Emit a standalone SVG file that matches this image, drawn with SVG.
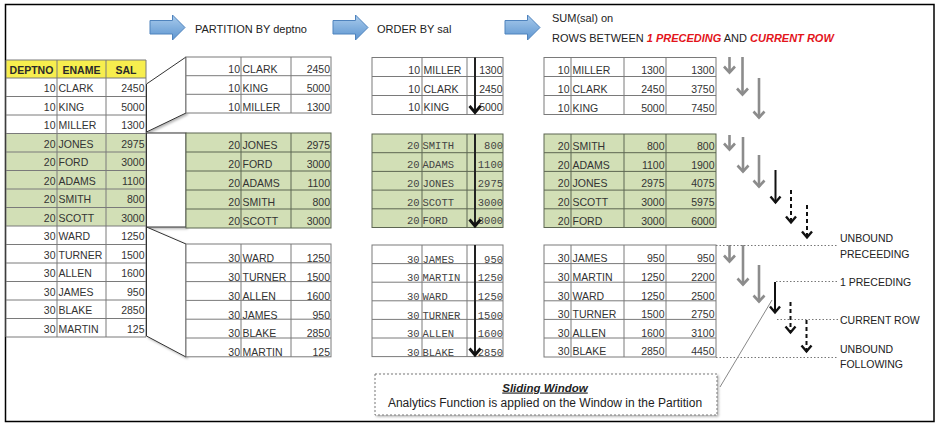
<svg xmlns="http://www.w3.org/2000/svg" width="939" height="427" viewBox="0 0 939 427">
  <style>
    .t { font-family: "Liberation Sans", Arial, sans-serif; font-size: 10.5px; fill: #333; }
    .r { text-anchor: end; }
    .m { font-family: "Liberation Mono", "DejaVu Sans Mono", monospace; font-size: 10.5px; fill: #444; }
    .hd { font-family: "Liberation Sans", Arial, sans-serif; font-size: 10.5px; font-weight: bold; fill: #2a2a2a; text-anchor: middle; }
    .cap { font-family: "Liberation Sans", Arial, sans-serif; font-size: 11px; fill: #222; }
    .red { fill: #e3141b; font-weight: bold; font-style: italic; }
    .lbl { font-family: "Liberation Sans", Arial, sans-serif; font-size: 10.5px; fill: #222; }
    .gw { fill: #fff; stroke: #7a7a7a; stroke-width: 1; }
    .gg { fill: #d2dfb6; stroke: #5d6652; stroke-width: 1; }
    .ln { fill: none; stroke: #7a7a7a; stroke-width: 1; }
    .lng { fill: none; stroke: #5d6652; stroke-width: 1; }
    .brk { fill: #fff; stroke: #333; stroke-width: 1; filter: url(#sh); }
    .blue { fill: url(#bg); stroke: #4f83bd; stroke-width: 1; }
    .ag { stroke: #8c8c8c; stroke-width: 2.6; fill: none; marker-end: url(#hg); }
    .ab { stroke: #111; stroke-width: 2; fill: none; marker-end: url(#hb); }
    .ad { stroke: #111; stroke-width: 2; fill: none; stroke-dasharray: 4 3; marker-end: url(#hb); }
    .sort { stroke: #222; stroke-width: 2; fill: none; marker-end: url(#hs); }
    .dot { stroke: #777; stroke-width: 1; fill: none; stroke-dasharray: 1.5 2; }
  </style>
  <defs>
    <linearGradient id="bg" x1="0" y1="0" x2="0" y2="1">
      <stop offset="0" stop-color="#a9cbec"/>
      <stop offset="1" stop-color="#5d95d0"/>
    </linearGradient>
    <filter id="sh" x="-20%" y="-20%" width="140%" height="140%">
      <feDropShadow dx="1.5" dy="1.5" stdDeviation="1" flood-color="#000" flood-opacity="0.3"/>
    </filter>
    <marker id="hg" markerUnits="userSpaceOnUse" viewBox="-10 -8 14 16" markerWidth="14" markerHeight="16" refX="0" refY="0" orient="auto">
      <path d="M-6.5,-5.5 L-0.5,0 L-6.5,5.5" fill="none" stroke="#8c8c8c" stroke-width="2.6"/>
    </marker>
    <marker id="hb" markerUnits="userSpaceOnUse" viewBox="-10 -8 14 16" markerWidth="14" markerHeight="16" refX="0" refY="0" orient="auto">
      <path d="M-6.5,-5 L-0.5,0 L-6.5,5" fill="none" stroke="#111" stroke-width="2.4"/>
    </marker>
    <marker id="hs" markerUnits="userSpaceOnUse" viewBox="-10 -8 14 16" markerWidth="14" markerHeight="16" refX="0" refY="0" orient="auto">
      <path d="M-7,-5.5 L-0.5,0 L-7,5.5" fill="none" stroke="#111" stroke-width="2.8"/>
    </marker>
  </defs>

  <rect width="939" height="427" fill="#fff"/>
  <!-- frame -->
  <rect x="5.5" y="4.5" width="928.5" height="417" fill="none" stroke="#000" stroke-width="1.5"/>

  <!-- step arrows and captions -->
  <g id="step-partition">
    <path class="blue" d="M150,20.5 H172.5 V15 L185,27.5 L172.5,40 V34 H150 Z"/>
    <text class="cap" x="195" y="33">PARTITION BY deptno</text>
  </g>
  <g id="step-order">
    <path class="blue" d="M333,20.5 H355.5 V15 L368,27.5 L355.5,40 V34 H333 Z"/>
    <text class="cap" x="377" y="33">ORDER BY sal</text>
  </g>
  <g id="step-sum">
    <path class="blue" d="M505,20.5 H527.5 V15 L540,27.5 L527.5,40 V34 H505 Z"/>
    <text class="cap" x="552" y="22">SUM(sal) on</text>
    <text class="cap" x="552" y="42" font-size="10.5">ROWS BETWEEN <tspan class="red">1 PRECEDING</tspan> AND <tspan class="red">CURRENT ROW</tspan></text>
  </g>

  <!-- source table -->
  <g id="emp-table">
    <rect x="6" y="60" width="140" height="18" fill="#f7ee4e"/>
    <rect x="6" y="78" width="140" height="259" fill="#fff"/>
    <rect x="6" y="133.5" width="140" height="92.5" fill="#d2dfb6"/>
    <path class="ln" d="M6,60 H146 M6,78 H146 M6,96.5 H146 M6,115 H146 M6,133.5 H146 M6,152 H146 M6,170.5 H146 M6,189 H146 M6,207.5 H146 M6,226 H146 M6,244.5 H146 M6,263 H146 M6,281.5 H146 M6,300 H146 M6,318.5 H146 M6,337 H146 M6,60 V337 M57,60 V337 M106,60 V337 M146,60 V337"/>
    <text class="hd" x="31.5" y="73.5">DEPTNO</text>
    <text class="hd" x="81.5" y="73.5">ENAME</text>
    <text class="hd" x="126" y="73.5">SAL</text>
    <g class="t">
      <text class="r" x="55.5" y="92">10</text><text x="58.5" y="92">CLARK</text><text class="r" x="144.5" y="92">2450</text>
      <text class="r" x="55.5" y="110.5">10</text><text x="58.5" y="110.5">KING</text><text class="r" x="144.5" y="110.5">5000</text>
      <text class="r" x="55.5" y="129">10</text><text x="58.5" y="129">MILLER</text><text class="r" x="144.5" y="129">1300</text>
      <text class="r" x="55.5" y="147.5">20</text><text x="58.5" y="147.5">JONES</text><text class="r" x="144.5" y="147.5">2975</text>
      <text class="r" x="55.5" y="166">20</text><text x="58.5" y="166">FORD</text><text class="r" x="144.5" y="166">3000</text>
      <text class="r" x="55.5" y="184.5">20</text><text x="58.5" y="184.5">ADAMS</text><text class="r" x="144.5" y="184.5">1100</text>
      <text class="r" x="55.5" y="203">20</text><text x="58.5" y="203">SMITH</text><text class="r" x="144.5" y="203">800</text>
      <text class="r" x="55.5" y="221.5">20</text><text x="58.5" y="221.5">SCOTT</text><text class="r" x="144.5" y="221.5">3000</text>
      <text class="r" x="55.5" y="240">30</text><text x="58.5" y="240">WARD</text><text class="r" x="144.5" y="240">1250</text>
      <text class="r" x="55.5" y="258.5">30</text><text x="58.5" y="258.5">TURNER</text><text class="r" x="144.5" y="258.5">1500</text>
      <text class="r" x="55.5" y="277">30</text><text x="58.5" y="277">ALLEN</text><text class="r" x="144.5" y="277">1600</text>
      <text class="r" x="55.5" y="295.5">30</text><text x="58.5" y="295.5">JAMES</text><text class="r" x="144.5" y="295.5">950</text>
      <text class="r" x="55.5" y="314">30</text><text x="58.5" y="314">BLAKE</text><text class="r" x="144.5" y="314">2850</text>
      <text class="r" x="55.5" y="332.5">30</text><text x="58.5" y="332.5">MARTIN</text><text class="r" x="144.5" y="332.5">125</text>
    </g>
  </g>

  <!-- partition brackets -->
  <g id="connectors">
    <polygon class="brk" points="146.5,84 186,57 186,113 146.5,132"/>
    <rect class="brk" x="146.5" y="133" width="39.5" height="94"/>
    <polygon class="brk" points="146.5,227 186,244 186,357 146.5,336"/>
  </g>

  <!-- partitioned table -->
  <g id="partition-10">
    <rect class="gw" x="186" y="57" width="145" height="56"/>
    <path class="ln" d="M186,75.7 H331 M186,94.3 H331 M241,57 V113 M291,57 V113"/>
    <g class="t">
      <text class="r" x="240" y="73">10</text><text x="242.5" y="73">CLARK</text><text class="r" x="330" y="73">2450</text>
      <text class="r" x="240" y="92">10</text><text x="242.5" y="92">KING</text><text class="r" x="330" y="92">5000</text>
      <text class="r" x="240" y="110.5">10</text><text x="242.5" y="110.5">MILLER</text><text class="r" x="330" y="110.5">1300</text>
    </g>
  </g>
  <g id="partition-20">
    <rect class="gg" x="186" y="133" width="145" height="95"/>
    <path class="lng" d="M186,152 H331 M186,171 H331 M186,190 H331 M186,209 H331 M241,133 V228 M291,133 V228"/>
    <g class="t">
      <text class="r" x="240" y="149">20</text><text x="242.5" y="149">JONES</text><text class="r" x="330" y="149">2975</text>
      <text class="r" x="240" y="168">20</text><text x="242.5" y="168">FORD</text><text class="r" x="330" y="168">3000</text>
      <text class="r" x="240" y="187">20</text><text x="242.5" y="187">ADAMS</text><text class="r" x="330" y="187">1100</text>
      <text class="r" x="240" y="206">20</text><text x="242.5" y="206">SMITH</text><text class="r" x="330" y="206">800</text>
      <text class="r" x="240" y="225">20</text><text x="242.5" y="225">SCOTT</text><text class="r" x="330" y="225">3000</text>
    </g>
  </g>
  <g id="partition-30">
    <rect class="gw" x="186" y="244" width="145" height="112.8"/>
    <path class="ln" d="M186,262.8 H331 M186,281.6 H331 M186,300.4 H331 M186,319.2 H331 M186,338 H331 M241,244 V356.8 M291,244 V356.8"/>
    <g class="t">
      <text class="r" x="240" y="262">30</text><text x="242.5" y="262">WARD</text><text class="r" x="330" y="262">1250</text>
      <text class="r" x="240" y="281">30</text><text x="242.5" y="281">TURNER</text><text class="r" x="330" y="281">1500</text>
      <text class="r" x="240" y="299.8">30</text><text x="242.5" y="299.8">ALLEN</text><text class="r" x="330" y="299.8">1600</text>
      <text class="r" x="240" y="318.6">30</text><text x="242.5" y="318.6">JAMES</text><text class="r" x="330" y="318.6">950</text>
      <text class="r" x="240" y="337.4">30</text><text x="242.5" y="337.4">BLAKE</text><text class="r" x="330" y="337.4">2850</text>
      <text class="r" x="240" y="356">30</text><text x="242.5" y="356">MARTIN</text><text class="r" x="330" y="356">125</text>
    </g>
  </g>

  <!-- ordered table -->
  <g id="ordered-10">
    <rect class="gw" x="372" y="57.5" width="131" height="57"/>
    <path class="ln" d="M372,76.5 H503 M372,95.5 H503 M422,57.5 V114.5 M467,57.5 V114.5"/>
    <g class="t">
      <text class="r" x="420" y="74">10</text><text x="423.5" y="74">MILLER</text><text class="r" x="502.5" y="74">1300</text>
      <text class="r" x="420" y="92.5">10</text><text x="423.5" y="92.5">CLARK</text><text class="r" x="502.5" y="92.5">2450</text>
      <text class="r" x="420" y="111.3">10</text><text x="423.5" y="111.3">KING</text><text class="r" x="502.5" y="111.3">5000</text>
    </g>
    <path class="sort" d="M475,57.5 V113"/>
  </g>
  <g id="ordered-20">
    <rect class="gg" x="372" y="134" width="131" height="93.5"/>
    <path class="lng" d="M372,152.7 H503 M372,171.4 H503 M372,190.1 H503 M372,208.8 H503 M422,134 V227.5 M467,134 V227.5"/>
    <g class="m">
      <text class="r" x="419.5" y="149.2">20</text><text x="422.5" y="149.2">SMITH</text><text class="r" x="503" y="149.2">800</text>
      <text class="r" x="419.5" y="168">20</text><text x="422.5" y="168">ADAMS</text><text class="r" x="503" y="168">1100</text>
      <text class="r" x="419.5" y="186.8">20</text><text x="422.5" y="186.8">JONES</text><text class="r" x="503" y="186.8">2975</text>
      <text class="r" x="419.5" y="205.6">20</text><text x="422.5" y="205.6">SCOTT</text><text class="r" x="503" y="205.6">3000</text>
      <text class="r" x="419.5" y="224.4">20</text><text x="422.5" y="224.4">FORD</text><text class="r" x="503" y="224.4">3000</text>
    </g>
    <path class="sort" d="M475,134 V226.5"/>
  </g>
  <g id="ordered-30">
    <rect class="gw" x="372" y="245" width="131" height="111.6"/>
    <path class="ln" d="M372,263.6 H503 M372,282.2 H503 M372,300.8 H503 M372,319.4 H503 M372,338 H503 M422,245 V356.6 M467,245 V356.6"/>
    <g class="m">
      <text class="r" x="419.5" y="262.5">30</text><text x="422.5" y="262.5">JAMES</text><text class="r" x="503" y="262.5">950</text>
      <text class="r" x="419.5" y="281.2">30</text><text x="422.5" y="281.2">MARTIN</text><text class="r" x="503" y="281.2">1250</text>
      <text class="r" x="419.5" y="299.8">30</text><text x="422.5" y="299.8">WARD</text><text class="r" x="503" y="299.8">1250</text>
      <text class="r" x="419.5" y="318.5">30</text><text x="422.5" y="318.5">TURNER</text><text class="r" x="503" y="318.5">1500</text>
      <text class="r" x="419.5" y="337.2">30</text><text x="422.5" y="337.2">ALLEN</text><text class="r" x="503" y="337.2">1600</text>
      <text class="r" x="419.5" y="355.8">30</text><text x="422.5" y="355.8">BLAKE</text><text class="r" x="503" y="355.8">2850</text>
    </g>
    <path class="sort" d="M475,245 V355.5"/>
  </g>

  <!-- running sum table -->
  <g id="sum-10">
    <rect class="gw" x="544" y="57.5" width="172" height="57"/>
    <path class="ln" d="M544,76.5 H716 M544,95.5 H716 M571,57.5 V114.5 M624,57.5 V114.5 M666,57.5 V114.5"/>
    <g class="t">
      <text class="r" x="569.5" y="74">10</text><text x="572.5" y="74">MILLER</text><text class="r" x="664.5" y="74">1300</text><text class="r" x="714.5" y="74">1300</text>
      <text class="r" x="569.5" y="93">10</text><text x="572.5" y="93">CLARK</text><text class="r" x="664.5" y="93">2450</text><text class="r" x="714.5" y="93">3750</text>
      <text class="r" x="569.5" y="111.7">10</text><text x="572.5" y="111.7">KING</text><text class="r" x="664.5" y="111.7">5000</text><text class="r" x="714.5" y="111.7">7450</text>
    </g>
  </g>
  <g id="sum-20">
    <rect class="gg" x="544" y="134" width="172" height="93.5"/>
    <path class="lng" d="M544,152.7 H716 M544,171.4 H716 M544,190.1 H716 M544,208.8 H716 M571,134 V227.5 M624,134 V227.5 M666,134 V227.5"/>
    <g class="t">
      <text class="r" x="569.5" y="149.7">20</text><text x="572.5" y="149.7">SMITH</text><text class="r" x="664.5" y="149.7">800</text><text class="r" x="714.5" y="149.7">800</text>
      <text class="r" x="569.5" y="168.5">20</text><text x="572.5" y="168.5">ADAMS</text><text class="r" x="664.5" y="168.5">1100</text><text class="r" x="714.5" y="168.5">1900</text>
      <text class="r" x="569.5" y="187.2">20</text><text x="572.5" y="187.2">JONES</text><text class="r" x="664.5" y="187.2">2975</text><text class="r" x="714.5" y="187.2">4075</text>
      <text class="r" x="569.5" y="206">20</text><text x="572.5" y="206">SCOTT</text><text class="r" x="664.5" y="206">3000</text><text class="r" x="714.5" y="206">5975</text>
      <text class="r" x="569.5" y="224.7">20</text><text x="572.5" y="224.7">FORD</text><text class="r" x="664.5" y="224.7">3000</text><text class="r" x="714.5" y="224.7">6000</text>
    </g>
  </g>
  <g id="sum-30">
    <rect class="gw" x="544" y="245" width="172" height="112"/>
    <path class="ln" d="M544,263.6 H716 M544,282.2 H716 M544,300.8 H716 M544,319.4 H716 M544,338 H716 M571,245 V357 M624,245 V357 M666,245 V357"/>
    <g class="t">
      <text class="r" x="569.5" y="262.3">30</text><text x="572.5" y="262.3">JAMES</text><text class="r" x="664.5" y="262.3">950</text><text class="r" x="714.5" y="262.3">950</text>
      <text class="r" x="569.5" y="281">30</text><text x="572.5" y="281">MARTIN</text><text class="r" x="664.5" y="281">1250</text><text class="r" x="714.5" y="281">2200</text>
      <text class="r" x="569.5" y="299.6">30</text><text x="572.5" y="299.6">WARD</text><text class="r" x="664.5" y="299.6">1250</text><text class="r" x="714.5" y="299.6">2500</text>
      <text class="r" x="569.5" y="318.2">30</text><text x="572.5" y="318.2">TURNER</text><text class="r" x="664.5" y="318.2">1500</text><text class="r" x="714.5" y="318.2">2750</text>
      <text class="r" x="569.5" y="336.8">30</text><text x="572.5" y="336.8">ALLEN</text><text class="r" x="664.5" y="336.8">1600</text><text class="r" x="714.5" y="336.8">3100</text>
      <text class="r" x="569.5" y="355.4">30</text><text x="572.5" y="355.4">BLAKE</text><text class="r" x="664.5" y="355.4">2850</text><text class="r" x="714.5" y="355.4">4450</text>
    </g>
  </g>

  <!-- window frame arrows -->
  <g id="window-arrows">
    <path class="ag" d="M729.5,57 V73"/>
    <path class="ag" d="M742.5,57 V95"/>
    <path class="ag" d="M759,78 V118"/>

    <path class="ag" d="M729.5,135 V150"/>
    <path class="ag" d="M743,137 V172"/>
    <path class="ag" d="M759,155 V187"/>
    <path class="ab" d="M775.5,170 V203"/>
    <path class="ad" d="M791,190 V223"/>
    <path class="ad" d="M807,205 V238"/>

    <path class="ag" d="M729.5,245 V262"/>
    <path class="ag" d="M743,245 V285"/>
    <path class="ag" d="M759,265 V302"/>
    <path class="ab" d="M775,282 V313"/>
    <path class="ad" d="M790.5,302 V333"/>
    <path class="ad" d="M806.5,320 V352"/>

    <path class="dot" d="M716,245.5 H838"/>
    <path class="dot" d="M776,281.5 H838"/>
    <path class="dot" d="M777,319.5 H838"/>
    <path class="dot" d="M716,357.5 H838"/>
    <path d="M772,300 L720,387" stroke="#888" stroke-width="1" fill="none"/>
  </g>

  <g id="frame-labels">
    <text class="lbl" x="840" y="241.5">UNBOUND</text>
    <text class="lbl" x="840" y="257.5">PRECEEDING</text>
    <text class="lbl" x="840" y="285.5">1 PRECEDING</text>
    <text class="lbl" x="840" y="323.5">CURRENT ROW</text>
    <text class="lbl" x="840" y="353.3">UNBOUND</text>
    <text class="lbl" x="840" y="367.5">FOLLOWING</text>
  </g>

  <!-- legend -->
  <g id="sliding-window">
    <rect x="375" y="374" width="342" height="41" fill="#fff" stroke="#777" stroke-width="1" stroke-dasharray="2 2" filter="url(#sh)"/>
    <text x="545" y="391.5" text-anchor="middle" font-family="Liberation Sans, Arial, sans-serif" font-size="11.5" font-weight="bold" font-style="italic" text-decoration="underline" fill="#222">Sliding Window</text>
    <text x="545" y="406.5" text-anchor="middle" font-family="Liberation Sans, Arial, sans-serif" font-size="12" fill="#222">Analytics Function is applied on the Window in the Partition</text>
  </g>
</svg>
